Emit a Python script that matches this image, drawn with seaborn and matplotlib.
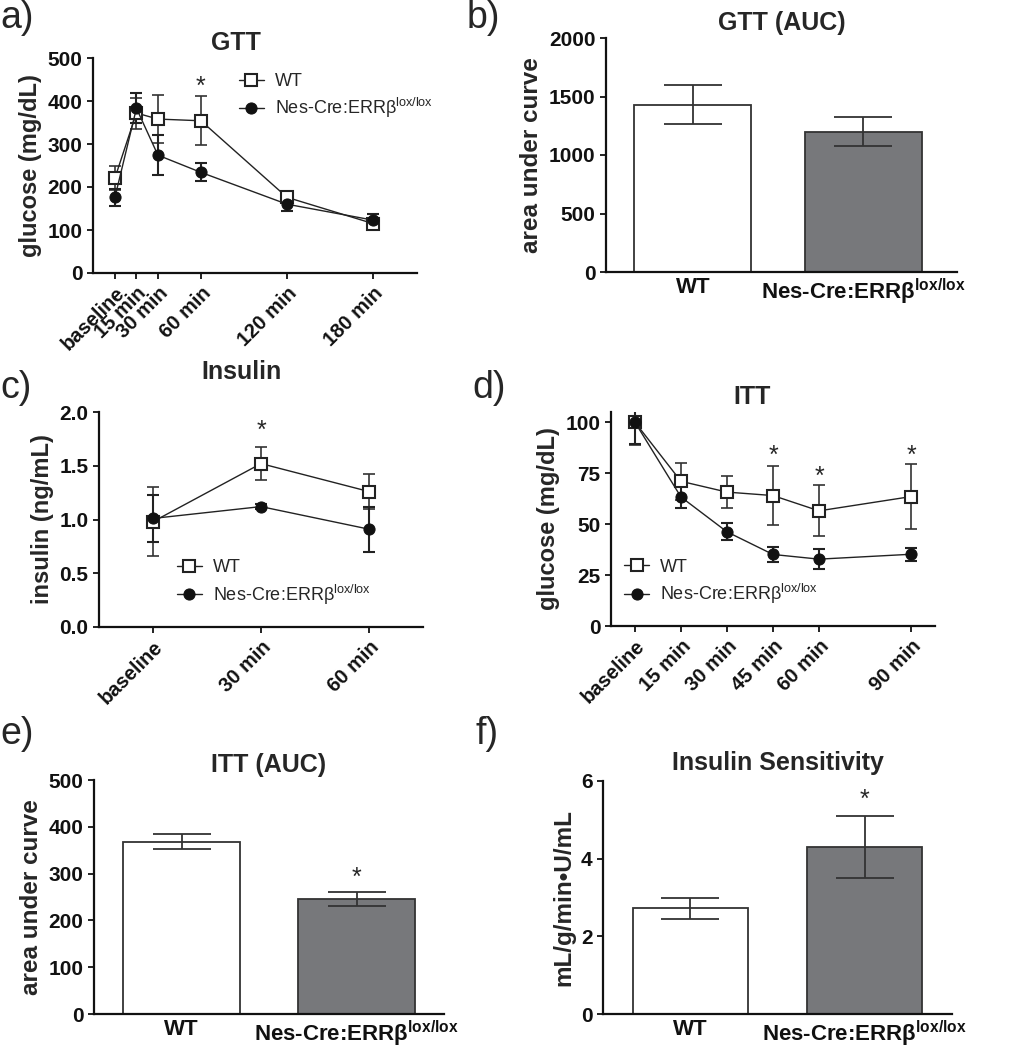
import numpy as np
import pandas as pd
import matplotlib
matplotlib.use("Agg")
import matplotlib.pyplot as plt
import seaborn as sns

# ---------------- data ----------------
gtt_times = [0, 15, 30, 60, 120, 180]
gtt_labels = ["baseline", "15 min", "30 min", "60 min", "120 min", "180 min"]
gtt_wt = [221, 372, 358, 354, 176, 115]
gtt_wt_err = [28, 36, 55, 57, 8, 8]
gtt_ko = [176, 383, 274, 234, 160, 123]
gtt_ko_err = [20, 35, 46, 21, 16, 14]

groups = ["WT", "Nes-Cre:ERRβ$^{\\mathbf{lox/lox}}$"]
gtt_auc = [1430, 1200]
gtt_auc_err = [165, 125]

ins_labels = ["baseline", "30 min", "60 min"]
ins_wt = [0.98, 1.52, 1.26]
ins_wt_err = [0.32, 0.155, 0.16]
ins_ko = [1.01, 1.12, 0.91]
ins_ko_err = [0.22, 0.02, 0.21]

itt_times = [0, 15, 30, 45, 60, 90]
itt_labels = ["baseline", "15 min", "30 min", "45 min", "60 min", "90 min"]
itt_wt = [100, 71, 65.7, 64, 56.5, 63.5]
itt_wt_err = [11, 9, 8, 14.5, 12.5, 16]
itt_ko = [100, 63.3, 46.2, 35.1, 32.8, 35.2]
itt_ko_err = [10.5, 5.5, 4.2, 3.7, 5, 3.3]

itt_auc = [368, 245]
itt_auc_err = [16, 15]

ins_sens = [2.72, 4.29]
ins_sens_err = [0.28, 0.8]

legend_labels = ["WT", "Nes-Cre:ERRβ$^{\\mathrm{lox/lox}}$"]

# ---------------- style ----------------
sns.set_style("ticks")
plt.rcParams["font.family"] = ["Liberation Sans", "DejaVu Sans"]
plt.rcParams["mathtext.fontset"] = "custom"
plt.rcParams["mathtext.rm"] = "Liberation Sans"
plt.rcParams["mathtext.bf"] = "Liberation Sans:bold"
plt.rcParams["mathtext.it"] = "Liberation Sans:italic"

W, H = 1021, 1050
fig = plt.figure(figsize=(W / 100, H / 100), dpi=100)


def axes_px(l, r, t, b):
    return fig.add_axes([l / W, (H - b) / H, (r - l) / W, (b - t) / H])


SPW = 1.6
GRAY = "#77787b"
EDGE = "#333333"


def style_axes(ax, ytick_fs=15):
    sns.despine(ax=ax)
    for s in ["left", "bottom"]:
        ax.spines[s].set_linewidth(SPW)
        ax.spines[s].set_color("#111111")
    ax.tick_params(direction="out", length=4, width=1.3, colors="#111111")
    for lab in ax.get_yticklabels():
        lab.set_fontweight("bold")
        lab.set_fontsize(ytick_fs)


def line_panel(ax, x, wt, wt_err, ko, ko_err):
    df_wt = pd.DataFrame({"x": x, "y": wt})
    df_ko = pd.DataFrame({"x": x, "y": ko})
    ax.errorbar(x, wt, yerr=wt_err, fmt="none", ecolor="#333333",
                elinewidth=1.2, capsize=4, capthick=1.2, zorder=2)
    ax.errorbar(x, ko, yerr=ko_err, fmt="none", ecolor="#222222",
                elinewidth=1.5, capsize=4, capthick=1.5, zorder=2)
    sns.lineplot(data=df_wt, x="x", y="y", ax=ax, color="#222222", lw=1.0,
                 marker="s", markersize=8, markerfacecolor="white",
                 markeredgecolor="#222222", markeredgewidth=1.5,
                 label=legend_labels[0], zorder=3)
    sns.lineplot(data=df_ko, x="x", y="y", ax=ax, color="#222222", lw=1.0,
                 marker="o", markersize=8, markerfacecolor="#111111",
                 markeredgecolor="#111111", label=legend_labels[1], zorder=4)
    ax.set_xlabel("")


def bar_panel(ax, vals, errs, width=0.67, capsize=21):
    df = pd.DataFrame({"g": groups, "v": vals})
    sns.barplot(data=df, x="g", y="v", hue="g", palette=["white", GRAY],
                edgecolor=EDGE, linewidth=1.3, width=width, legend=False,
                ax=ax, zorder=2)
    ax.errorbar([0, 1], vals, yerr=errs, fmt="none", ecolor=EDGE,
                elinewidth=1.3, capsize=capsize, capthick=1.3, zorder=3)
    ax.set_xlabel("")
    for lab in ax.get_xticklabels():
        lab.set_fontweight("bold")
        lab.set_fontsize(16)
    ax.tick_params(axis="x", length=0)


def legend(ax, x, y):
    leg = ax.legend(loc="upper left", bbox_to_anchor=(x, y), frameon=False,
                    fontsize=13, handlelength=1.4, handletextpad=0.6,
                    labelspacing=0.35, borderpad=0, borderaxespad=0)
    return leg


XT_FS = 14.5

# ---------------- a) GTT ----------------
ax = axes_px(93, 417, 58, 273)
line_panel(ax, gtt_times, gtt_wt, gtt_wt_err, gtt_ko, gtt_ko_err)
ax.set_xlim(-15.3, 210.7)
ax.set_ylim(0, 500)
ax.set_yticks(range(0, 501, 100))
ax.set_xticks(gtt_times)
ax.set_xticklabels(gtt_labels, rotation=45, ha="right", rotation_mode="anchor",
                   fontweight="bold", fontsize=XT_FS)
ax.set_ylabel("glucose (mg/dL)", fontsize=17, fontweight="bold")
ax.set_title("GTT", fontsize=18, fontweight="bold", x=0.44, pad=6)
ax.text(60, 432, "*", ha="center", va="center", fontsize=18)
style_axes(ax)
legend(ax, 0.45, 0.93)

# ---------------- b) GTT AUC ----------------
ax = axes_px(606, 957, 38, 272)
bar_panel(ax, gtt_auc, gtt_auc_err, width=0.686)
ax.set_xlim(-0.51, 1.55)
ax.set_ylim(0, 2000)
ax.set_yticks(range(0, 2001, 500))
ax.set_ylabel("area under curve", fontsize=17.5, fontweight="bold")
ax.set_title("GTT (AUC)", fontsize=18, fontweight="bold", pad=6)
style_axes(ax)
ax.tick_params(axis="x", length=0)

# ---------------- c) Insulin ----------------
ax = axes_px(99, 423, 412, 627)
line_panel(ax, [0, 1, 2], ins_wt, ins_wt_err, ins_ko, ins_ko_err)
ax.set_xlim(-0.5, 2.5)
ax.set_ylim(0, 2.0)
ax.set_yticks(np.arange(0, 2.01, 0.5))
ax.set_yticklabels([f"{v:.1f}" for v in np.arange(0, 2.01, 0.5)])
ax.set_xticks([0, 1, 2])
ax.set_xticklabels(ins_labels, rotation=45, ha="right", rotation_mode="anchor",
                   fontweight="bold", fontsize=XT_FS)
ax.set_ylabel("insulin (ng/mL)", fontsize=17, fontweight="bold")
ax.set_title("Insulin", fontsize=18, fontweight="bold", x=0.44, pad=24)
ax.text(1, 1.82, "*", ha="center", va="center", fontsize=18)
style_axes(ax)
legend(ax, 0.24, 0.315)

# ---------------- d) ITT ----------------
ax = axes_px(611, 935, 412, 626)
line_panel(ax, itt_times, itt_wt, itt_wt_err, itt_ko, itt_ko_err)
ax.set_xlim(-7.8, 97.8)
ax.set_ylim(0, 105)
ax.set_yticks(range(0, 101, 25))
ax.set_xticks(itt_times)
ax.set_xticklabels(itt_labels, rotation=45, ha="right", rotation_mode="anchor",
                   fontweight="bold", fontsize=XT_FS)
ax.set_ylabel("glucose (mg/dL)", fontsize=17, fontweight="bold")
ax.set_title("ITT", fontsize=18, fontweight="bold", x=0.434, pad=6)
for t, yv in [(45, 83.3), (60, 73.4), (90, 83.3)]:
    ax.text(t, yv, "*", ha="center", va="center", fontsize=18)
style_axes(ax)
legend(ax, 0.04, 0.315)

# ---------------- e) ITT AUC ----------------
ax = axes_px(94, 444, 780, 1014)
bar_panel(ax, itt_auc, itt_auc_err, width=0.663)
ax.set_xlim(-0.5, 1.5)
ax.set_ylim(0, 500)
ax.set_yticks(range(0, 501, 100))
ax.set_ylabel("area under curve", fontsize=17.5, fontweight="bold")
ax.set_title("ITT (AUC)", fontsize=18, fontweight="bold", pad=6)
ax.text(1, 290, "*", ha="center", va="center", fontsize=18)
style_axes(ax)
ax.tick_params(axis="x", length=0)

# ---------------- f) Insulin Sensitivity ----------------
ax = axes_px(603, 952, 781, 1014)
bar_panel(ax, ins_sens, ins_sens_err, width=0.66)
ax.set_xlim(-0.5, 1.5)
ax.set_ylim(0, 6)
ax.set_yticks([0, 2, 4, 6])
ax.set_ylabel("mL/g/min•U/mL", fontsize=17.5, fontweight="bold")
ax.set_title("Insulin Sensitivity", fontsize=18, fontweight="bold", pad=8)
ax.text(1, 5.51, "*", ha="center", va="center", fontsize=18)
style_axes(ax)
ax.tick_params(axis="x", length=0)

# ---------------- panel letters ----------------
for lab, px, py in [("a)", 0, 0), ("b)", 467, 0), ("c)", 0, 370),
                    ("d)", 472, 370), ("e)", 0, 716), ("f)", 475, 716)]:
    fig.text(px / W, 1 - py / H, lab, ha="left", va="top", fontsize=27)

fig.savefig("out.png", dpi=100)
